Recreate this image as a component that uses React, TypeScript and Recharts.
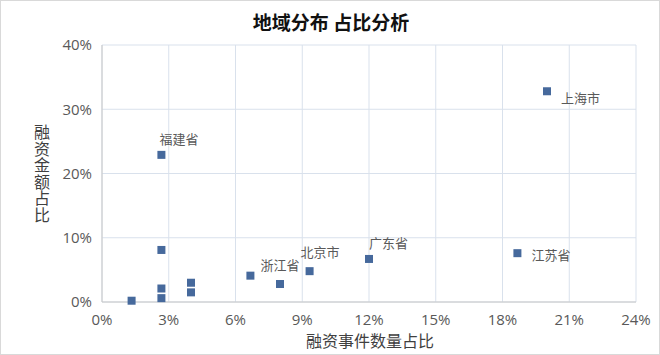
import { ScatterChart, Scatter, XAxis, YAxis, ZAxis, CartesianGrid } from 'recharts'

// 各地区：融资事件数量占比 / 融资金额占比 (%)
const regionNames = ['上海市', '江苏省', '广东省', '北京市', '浙江省', '福建省', '', '', '', '', '', '', '']
const eventShare = [20.0, 18.67, 12.0, 9.33, 6.67, 2.67, 8.0, 2.67, 2.67, 2.67, 4.0, 4.0, 1.33]
const amountShare = [32.8, 7.6, 6.7, 4.8, 4.1, 22.9, 2.8, 8.1, 2.1, 0.6, 3.0, 1.5, 0.2]

const xTicks = [0, 3, 6, 9, 12, 15, 18, 21, 24]
const yTicks = [0, 10, 20, 30, 40]

const data = regionNames.map((name, i) => ({ name, x: eventShare[i], y: amountShare[i] }))

// label placement next to each marker
const labelOffset: Record<string, [number, number]> = {
  上海市: [14, 7],
  江苏省: [14, 2],
  广东省: [0, -16],
  北京市: [-9, -19],
  浙江省: [10, -11],
  福建省: [-2, -16],
}

const FONT = '"Open Sans", "Noto Sans CJK SC", sans-serif'
const CJK = '"Noto Sans CJK SC", sans-serif'
const MARK = '#46699c'

const PointShape = (props: any) => {
  const { cx, cy, payload } = props
  const off = labelOffset[payload.name]
  return (
    <g>
      <rect x={cx - 4} y={cy - 4} width={8} height={8} fill={MARK} />
      {off && (
        <text
          x={cx + off[0]}
          y={cy + off[1]}
          dominantBaseline="central"
          fontSize={13}
          fill="#595959"
          fontFamily={FONT}
        >
          {payload.name}
        </text>
      )}
    </g>
  )
}

export default function App() {
  return (
    <div
      style={{
        position: 'absolute',
        left: 0,
        top: 0,
        width: 660,
        height: 355,
        border: '1px solid #d9d9d9',
        boxSizing: 'border-box',
        background: '#fff',
        fontFamily: FONT,
      }}
    >
      <div
        style={{
          position: 'absolute',
          top: 7,
          left: 0,
          width: 660,
          textAlign: 'center',
          fontSize: 19,
          fontWeight: 'bold',
          color: '#111',
          fontFamily: CJK,
        }}
      >
        地域分布 占比分析
      </div>
      <div
        style={{
          position: 'absolute',
          left: 31,
          top: 123,
          writingMode: 'vertical-rl',
          textOrientation: 'upright',
          fontSize: 16,
          lineHeight: '20px',
          letterSpacing: 0.5,
          color: '#404040',
          fontFamily: CJK,
        }}
      >
        融资金额占比
      </div>
      <div
        style={{
          position: 'absolute',
          left: 102,
          width: 534,
          top: 327,
          textAlign: 'center',
          fontSize: 16,
          color: '#404040',
          fontFamily: CJK,
        }}
      >
        融资事件数量占比
      </div>
      <div style={{ position: 'absolute', left: -1, top: -1 }}>
        <ScatterChart width={660} height={355} margin={{ top: 45, right: 24, left: 0, bottom: 0 }}>
          <CartesianGrid stroke="#d9e1ec" />
          <XAxis
            type="number"
            dataKey="x"
            domain={[0, 24]}
            ticks={xTicks}
            tickFormatter={(v) => `${v}%`}
            height={53}
            tickLine={false}
            tickMargin={6}
            axisLine={{ stroke: '#c8c8c8' }}
            tick={{ fontSize: 15, fill: '#595959', fontFamily: FONT }}
            interval={0}
          />
          <YAxis
            type="number"
            dataKey="y"
            domain={[0, 40]}
            ticks={yTicks}
            tickFormatter={(v) => `${v}%`}
            width={102}
            tickLine={false}
            tickMargin={4}
            axisLine={{ stroke: '#c8c8c8' }}
            tick={{ fontSize: 15, fill: '#595959', fontFamily: FONT }}
            interval={0}
          />
          <ZAxis range={[64, 64]} />
          <Scatter data={data} shape={PointShape} isAnimationActive={false} />
        </ScatterChart>
      </div>
    </div>
  )
}
